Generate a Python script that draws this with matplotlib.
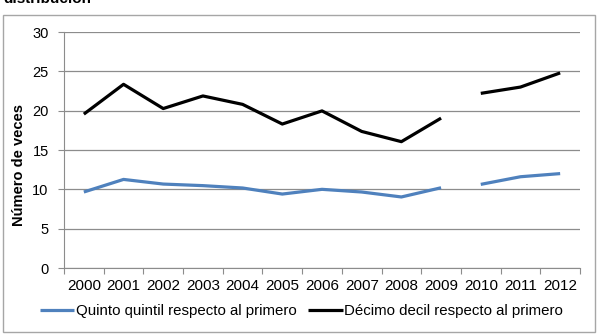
import numpy as np
import matplotlib.pyplot as plt
from matplotlib.patches import Rectangle

plt.rcParams['font.family'] = ['Liberation Sans', 'DejaVu Sans']

# Data
years = ['2000', '2001', '2002', '2003', '2004', '2005', '2006',
         '2007', '2008', '2009', '2010', '2011', '2012']
quinto = [9.66, 11.26, 10.67, 10.47, 10.17, 9.4, 10.0,
          9.66, 9.03, 10.2, 10.63, 11.6, 12.0]
decimo = [19.56, 23.35, 20.27, 21.87, 20.8, 18.3, 19.97,
          17.36, 16.06, 19.05, 22.2, 23.0, 24.8]
split = 10  # series break between 2009 and 2010

W, H = 603, 335
fig = plt.figure(figsize=(W / 100, H / 100), dpi=100)
ax = fig.add_axes([64 / W, 1 - 268 / H, (580 - 64) / W, (268 - 32) / H])

x = np.arange(len(years))
blue = '#4f81bd'
ax.plot(x[:split], quinto[:split], color=blue, lw=2.3, solid_capstyle='butt',
        label='Quinto quintil respecto al primero')
ax.plot(x[split:], quinto[split:], color=blue, lw=2.3, solid_capstyle='butt')
ax.plot(x[:split], decimo[:split], color='black', lw=2.3, solid_capstyle='butt',
        label='Décimo decil respecto al primero')
ax.plot(x[split:], decimo[split:], color='black', lw=2.3, solid_capstyle='butt')

ax.set_xlim(-0.5, len(years) - 0.5)
ax.set_ylim(0, 30)
ax.set_yticks(range(0, 31, 5))
ax.grid(axis='y', color='#8c8c8c', lw=0.9)
ax.set_axisbelow(True)

# category axis: tick marks between categories, labels centred
ax.set_xticks(np.arange(-0.5, len(years), 1.0))
ax.set_xticklabels([])
ax.set_xticks(x, minor=True)
ax.set_xticklabels(years, minor=True)
ax.tick_params(axis='x', which='minor', length=0, pad=8, labelsize=11)
ax.tick_params(axis='x', which='major', length=4, color='#8c8c8c', direction='out')
ax.tick_params(axis='y', length=4, color='#8c8c8c', pad=7, labelsize=10.5)

for s in ['top', 'right']:
    ax.spines[s].set_visible(False)
for s in ['left', 'bottom']:
    ax.spines[s].set_color('#8c8c8c')

ax.set_ylabel('Número de veces', fontsize=10.5, fontweight='bold')
ax.yaxis.set_label_coords(-0.074, 0.436)

fig.legend(loc='center', bbox_to_anchor=(0.5, 1 - 311 / H), ncol=2, frameon=False,
           fontsize=10.8, handlelength=2.3, handletextpad=0.1, columnspacing=0.8)

fig.patches.append(Rectangle((3 / W, 1 - 332 / H), 592 / W, 317 / H,
                             transform=fig.transFigure, fill=False,
                             edgecolor='#a6a6a6', lw=1))
fig.text(3 / W, 1 - 3 / H, 'distribución', fontsize=11, fontweight='bold',
         va='baseline', ha='left')

fig.savefig('out.png', dpi=100)
